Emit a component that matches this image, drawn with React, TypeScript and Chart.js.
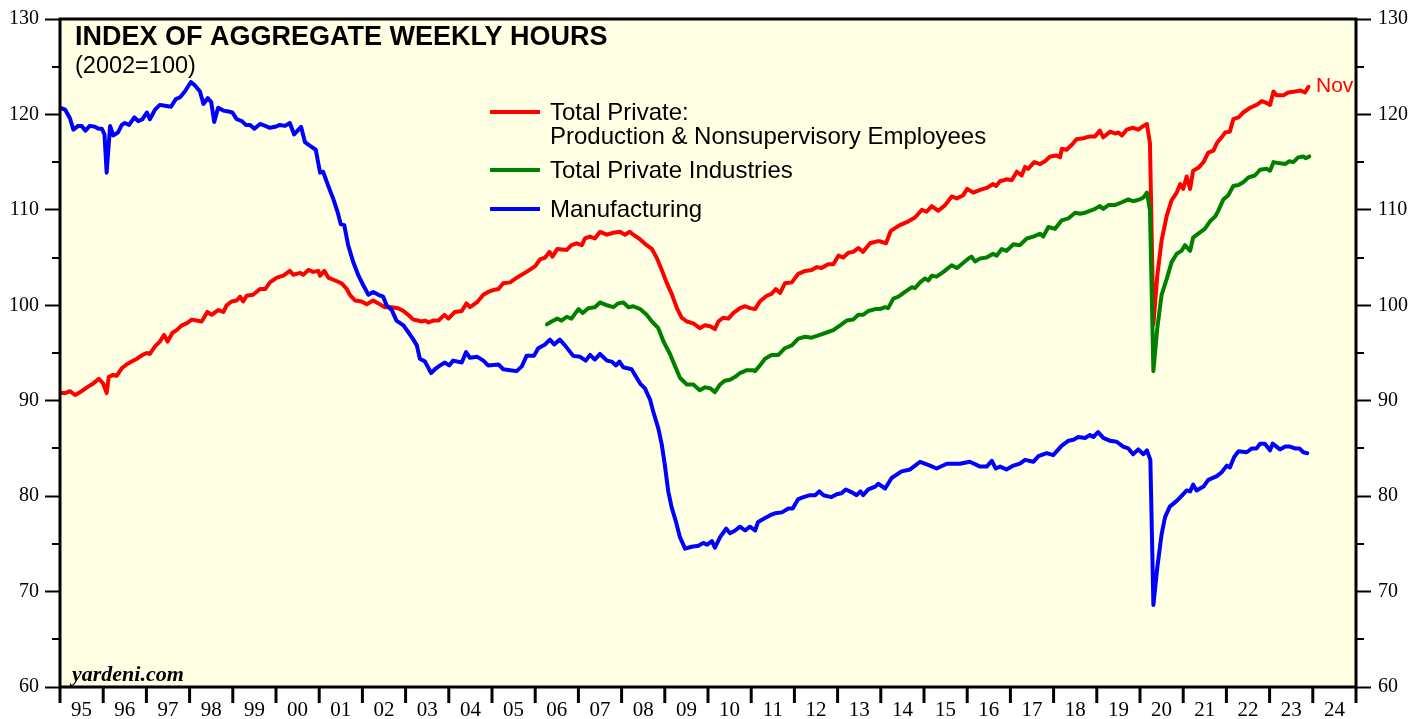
import React, { useEffect, useRef } from 'react';
import { Chart, registerables } from 'chart.js';

Chart.register(...registerables);

// ---------- DATA ----------
const yearLabels = ['95', '96', '97', '98', '99', '00', '01', '02', '03', '04', '05', '06', '07', '08', '09', '10', '11', '12', '13', '14', '15', '16', '17', '18', '19', '20', '21', '22', '23', '24'];
const majorYTicks = [60, 70, 80, 90, 100, 110, 120, 130];

// Total Private: Production & Nonsupervisory Employees
const prodDates = [
  1995.00, 1995.12, 1995.23, 1995.35, 1995.50, 1995.66, 1995.77, 1995.90, 1996.00, 1996.08, 1996.13, 1996.23, 1996.31, 1996.43, 1996.54, 1996.66, 1996.78, 1996.91,
  1997.01, 1997.08, 1997.20, 1997.31, 1997.41, 1997.49, 1997.60, 1997.70, 1997.82, 1997.93, 1998.05, 1998.16, 1998.28, 1998.41, 1998.51, 1998.66, 1998.78, 1998.86, 1998.97,
  1999.09, 1999.17, 1999.24, 1999.32, 1999.47, 1999.63, 1999.75, 1999.86, 2000.02, 2000.17, 2000.32, 2000.40, 2000.56, 2000.63, 2000.75, 2000.86, 2000.98,
  2001.02, 2001.12, 2001.21, 2001.37, 2001.52, 2001.64, 2001.71, 2001.83, 2001.98, 2002.10, 2002.25, 2002.37, 2002.52, 2002.68, 2002.83, 2002.95,
  2003.06, 2003.18, 2003.29, 2003.37, 2003.45, 2003.53, 2003.64, 2003.76, 2003.90, 2003.99, 2004.14, 2004.30, 2004.41, 2004.49, 2004.65, 2004.80, 2004.91,
  2005.03, 2005.15, 2005.26, 2005.42, 2005.61, 2005.80, 2006.00, 2006.11, 2006.23, 2006.33, 2006.40, 2006.51, 2006.73, 2006.84, 2006.96,
  2007.08, 2007.15, 2007.27, 2007.38, 2007.50, 2007.66, 2007.81, 2007.96, 2008.08, 2008.19, 2008.27, 2008.43, 2008.58, 2008.70, 2008.81, 2008.93,
  2009.04, 2009.16, 2009.28, 2009.39, 2009.51, 2009.66, 2009.81, 2009.93, 2010.05, 2010.16, 2010.24, 2010.35, 2010.47, 2010.59, 2010.74, 2010.86, 2010.97,
  2011.09, 2011.20, 2011.36, 2011.47, 2011.57, 2011.67, 2011.78, 2011.94, 2012.09, 2012.25, 2012.40, 2012.52, 2012.63, 2012.78, 2012.90,
  2013.02, 2013.13, 2013.25, 2013.36, 2013.48, 2013.59, 2013.75, 2013.91, 2013.98, 2014.12, 2014.23, 2014.44, 2014.64, 2014.79, 2014.95,
  2015.06, 2015.18, 2015.33, 2015.49, 2015.64, 2015.76, 2015.90, 2016.00, 2016.14, 2016.30, 2016.45, 2016.60, 2016.67, 2016.76, 2016.91,
  2017.03, 2017.15, 2017.26, 2017.34, 2017.41, 2017.55, 2017.69, 2017.80, 2017.92, 2018.07, 2018.15, 2018.19, 2018.30, 2018.44, 2018.53, 2018.69, 2018.84, 2018.96,
  2019.07, 2019.15, 2019.31, 2019.42, 2019.50, 2019.58, 2019.69, 2019.84, 2019.96, 2020.08, 2020.16, 2020.23, 2020.31, 2020.40, 2020.50, 2020.62, 2020.73, 2020.85, 2020.93,
  2021.00, 2021.08, 2021.16, 2021.23, 2021.35, 2021.47, 2021.58, 2021.70, 2021.78, 2021.89, 2021.97, 2022.08, 2022.16, 2022.28, 2022.39, 2022.55, 2022.70, 2022.82, 2022.93,
  2023.01, 2023.09, 2023.16, 2023.32, 2023.43, 2023.59, 2023.72, 2023.82, 2023.90,
];
const prodValues = [
  90.8, 90.8, 91.0, 90.6, 91.0, 91.5, 91.8, 92.3, 91.8, 90.8, 92.5, 92.7, 92.6, 93.4, 93.8, 94.1, 94.4, 94.8,
  95.0, 94.9, 95.7, 96.2, 96.9, 96.2, 97.1, 97.4, 97.9, 98.1, 98.5, 98.4, 98.3, 99.3, 99.0, 99.5, 99.3, 100.0, 100.4,
  100.5, 100.9, 100.4, 101.0, 101.1, 101.7, 101.7, 102.4, 102.9, 103.1, 103.6, 103.2, 103.4, 103.2, 103.7, 103.5, 103.6,
  103.1, 103.6, 102.9, 102.6, 102.3, 101.7, 101.1, 100.5, 100.4, 100.1, 100.5, 100.2, 99.8, 99.8, 99.7, 99.4,
  99.0, 98.5, 98.4, 98.3, 98.4, 98.2, 98.4, 98.4, 99.0, 98.6, 99.3, 99.4, 100.2, 99.8, 100.3, 101.1, 101.4,
  101.6, 101.7, 102.3, 102.4, 103.0, 103.5, 104.1, 104.8, 105.0, 105.6, 105.1, 105.9, 105.8, 106.3, 106.5,
  106.3, 107.0, 107.2, 107.0, 107.7, 107.4, 107.6, 107.7, 107.4, 107.7, 107.4, 106.9, 106.3, 105.9, 105.0, 103.7,
  102.4, 101.2, 99.7, 98.7, 98.3, 98.1, 97.6, 97.9, 97.8, 97.5, 98.3, 98.7, 98.6, 99.2, 99.7, 99.9, 99.7,
  99.6, 100.4, 101.0, 101.2, 101.7, 101.3, 102.3, 102.4, 103.3, 103.6, 103.7, 104.0, 103.9, 104.3, 104.3,
  105.2, 105.0, 105.5, 105.6, 106.0, 105.6, 106.5, 106.7, 106.7, 106.5, 107.8, 108.4, 108.8, 109.2, 110.0,
  109.8, 110.4, 109.9, 110.5, 111.4, 111.2, 111.5, 112.2, 111.8, 112.1, 112.3, 112.7, 112.5, 113.0, 113.2,
  113.1, 114.0, 113.6, 114.5, 114.3, 115.0, 114.8, 115.1, 115.6, 115.7, 115.5, 116.4, 116.3, 116.9, 117.4, 117.5, 117.7, 117.7,
  118.3, 117.6, 118.2, 118.0, 118.1, 117.8, 118.4, 118.6, 118.4, 118.8, 119.0, 117.0, 98.0, 103.1, 106.8, 109.4, 111.0, 111.8, 112.7,
  112.2, 113.5, 112.2, 114.1, 114.4, 115.0, 116.0, 116.2, 117.0, 117.6, 118.1, 118.2, 119.5, 119.7, 120.2, 120.7, 121.0, 121.4, 121.2,
  121.0, 122.4, 122.0, 122.0, 122.3, 122.4, 122.5, 122.3, 122.9,
];

// Total Private Industries
const totalDates = [
  2006.27, 2006.38, 2006.51, 2006.61, 2006.73, 2006.84, 2007.00, 2007.10, 2007.23, 2007.38, 2007.50, 2007.66, 2007.81, 2007.92,
  2008.04, 2008.16, 2008.27, 2008.43, 2008.58, 2008.72, 2008.85, 2008.97, 2009.12, 2009.24, 2009.35, 2009.51, 2009.66, 2009.81, 2009.93,
  2010.05, 2010.16, 2010.28, 2010.39, 2010.51, 2010.63, 2010.74, 2010.90, 2011.05, 2011.09, 2011.20, 2011.32, 2011.47, 2011.63, 2011.78, 2011.94,
  2012.09, 2012.25, 2012.40, 2012.59, 2012.78, 2012.90, 2013.06, 2013.21, 2013.36, 2013.48, 2013.59, 2013.71, 2013.87, 2013.98,
  2014.10, 2014.17, 2014.29, 2014.41, 2014.56, 2014.72, 2014.79, 2014.91, 2015.02, 2015.10, 2015.18, 2015.29, 2015.45, 2015.64, 2015.76, 2015.87,
  2016.03, 2016.10, 2016.18, 2016.30, 2016.45, 2016.60, 2016.68, 2016.80, 2016.91, 2017.07, 2017.22, 2017.38, 2017.53, 2017.69, 2017.76, 2017.88,
  2018.03, 2018.19, 2018.34, 2018.50, 2018.61, 2018.73, 2018.84, 2018.96, 2019.07, 2019.15, 2019.27, 2019.42, 2019.58, 2019.73, 2019.84,
  2020.00, 2020.08, 2020.16, 2020.23, 2020.31, 2020.40, 2020.50, 2020.62, 2020.73, 2020.85, 2020.96,
  2021.04, 2021.16, 2021.23, 2021.35, 2021.50, 2021.62, 2021.74, 2021.81, 2021.93, 2022.04, 2022.16, 2022.28, 2022.39, 2022.51, 2022.66, 2022.78, 2022.93,
  2023.01, 2023.09, 2023.20, 2023.36, 2023.46, 2023.55, 2023.66, 2023.78, 2023.84, 2023.92,
];
const totalValues = [
  98.0, 98.3, 98.6, 98.4, 98.8, 98.6, 99.6, 99.2, 99.7, 99.8, 100.3, 100.0, 99.8, 100.2,
  100.3, 99.8, 99.9, 99.6, 99.0, 98.2, 97.6, 96.2, 94.9, 93.6, 92.4, 91.7, 91.7, 91.1, 91.4,
  91.3, 90.9, 91.7, 92.1, 92.2, 92.5, 92.9, 93.2, 93.2, 93.1, 93.7, 94.4, 94.8, 94.8, 95.5, 95.8,
  96.5, 96.7, 96.6, 96.9, 97.2, 97.4, 97.9, 98.4, 98.5, 99.0, 99.0, 99.4, 99.6, 99.6,
  99.8, 99.7, 100.7, 100.9, 101.4, 101.9, 101.8, 102.4, 102.8, 102.6, 103.1, 103.0, 103.5, 104.2, 103.9, 104.3,
  104.9, 105.1, 104.6, 104.9, 105.0, 105.4, 105.2, 105.9, 105.7, 106.4, 106.3, 107.0, 107.2, 107.5, 107.2, 108.2,
  108.0, 108.9, 109.1, 109.7, 109.6, 109.7, 109.9, 110.1, 110.4, 110.1, 110.5, 110.5, 110.8, 111.1, 110.9,
  111.1, 111.3, 111.8, 110.0, 93.1, 97.6, 101.1, 102.8, 104.5, 105.4, 105.7,
  106.3, 105.7, 107.1, 107.5, 108.0, 108.8, 109.3, 109.9, 111.1, 111.5, 112.5, 112.6, 112.9, 113.4, 113.6, 114.2, 114.3,
  114.1, 115.0, 114.9, 114.8, 115.1, 115.0, 115.5, 115.6, 115.4, 115.6,
];

// Manufacturing
const mfgDates = [
  1995.00, 1995.12, 1995.23, 1995.31, 1995.42, 1995.50, 1995.59, 1995.69, 1995.81, 1995.89, 1995.97, 1996.03, 1996.08, 1996.16, 1996.23, 1996.34, 1996.43, 1996.50, 1996.60, 1996.72, 1996.81, 1996.91,
  1997.01, 1997.08, 1997.20, 1997.31, 1997.43, 1997.57, 1997.68, 1997.78, 1997.89, 1998.03, 1998.13, 1998.24, 1998.32, 1998.42, 1998.50, 1998.57, 1998.66, 1998.78, 1998.90, 1998.99,
  1999.09, 1999.21, 1999.30, 1999.40, 1999.50, 1999.63, 1999.75, 1999.86, 1999.98, 2000.09, 2000.21, 2000.32, 2000.42, 2000.52, 2000.58, 2000.67, 2000.79, 2000.92,
  2001.02, 2001.09, 2001.21, 2001.33, 2001.43, 2001.50, 2001.58, 2001.67, 2001.79, 2001.91, 2002.02, 2002.14, 2002.25, 2002.37, 2002.48, 2002.56, 2002.68, 2002.79, 2002.95,
  2003.06, 2003.18, 2003.26, 2003.33, 2003.45, 2003.59, 2003.68, 2003.80, 2003.91, 2004.01, 2004.10, 2004.30, 2004.40, 2004.49, 2004.66, 2004.80, 2004.91,
  2005.15, 2005.26, 2005.42, 2005.57, 2005.69, 2005.80, 2005.97, 2006.07, 2006.23, 2006.34, 2006.44, 2006.57, 2006.69, 2006.88,
  2007.04, 2007.17, 2007.27, 2007.38, 2007.50, 2007.66, 2007.77, 2007.87, 2007.95, 2008.04, 2008.23, 2008.43, 2008.54, 2008.66, 2008.73, 2008.85, 2008.93,
  2009.00, 2009.08, 2009.16, 2009.26, 2009.35, 2009.47, 2009.62, 2009.78, 2009.89, 2009.98, 2010.09, 2010.16, 2010.28, 2010.42, 2010.51, 2010.63, 2010.74, 2010.86, 2010.97,
  2011.09, 2011.16, 2011.32, 2011.44, 2011.55, 2011.71, 2011.86, 2011.96, 2012.09, 2012.21, 2012.36, 2012.48, 2012.58, 2012.67, 2012.86, 2012.98,
  2013.09, 2013.19, 2013.33, 2013.44, 2013.53, 2013.59, 2013.71, 2013.87, 2013.94, 2014.10, 2014.25, 2014.48, 2014.68, 2014.91,
  2015.14, 2015.29, 2015.53, 2015.83, 2016.06, 2016.30, 2016.45, 2016.57, 2016.66, 2016.76, 2016.91,
  2017.07, 2017.22, 2017.34, 2017.53, 2017.65, 2017.84, 2017.99, 2018.19, 2018.34, 2018.46, 2018.57, 2018.73, 2018.84, 2018.92,
  2019.03, 2019.15, 2019.31, 2019.46, 2019.61, 2019.73, 2019.84, 2019.96, 2020.08, 2020.16, 2020.24, 2020.31, 2020.40, 2020.50, 2020.58, 2020.69, 2020.85,
  2021.00, 2021.08, 2021.16, 2021.23, 2021.31, 2021.47, 2021.58, 2021.78, 2021.89, 2022.01, 2022.08, 2022.18, 2022.28, 2022.47, 2022.59, 2022.70, 2022.78, 2022.89,
  2023.01, 2023.07, 2023.24, 2023.36, 2023.47, 2023.59, 2023.69, 2023.78, 2023.87,
];
const mfgValues = [
  120.7, 120.5, 119.6, 118.4, 118.8, 118.8, 118.3, 118.8, 118.7, 118.5, 118.5, 117.9, 113.9, 118.8, 117.8, 118.1, 118.9, 119.1, 118.9, 119.7, 119.3, 119.5,
  120.2, 119.5, 120.5, 121.0, 120.9, 120.8, 121.6, 121.8, 122.4, 123.4, 123.0, 122.4, 121.1, 121.7, 121.3, 119.2, 120.7, 120.4, 120.3, 120.2,
  119.5, 119.3, 118.9, 118.9, 118.5, 119.0, 118.8, 118.6, 118.7, 118.9, 118.8, 119.1, 117.9, 118.4, 118.7, 117.1, 116.7, 116.3,
  113.9, 114.0, 112.5, 111.1, 109.7, 108.5, 108.4, 106.3, 104.5, 103.1, 102.1, 101.1, 101.4, 101.1, 100.9, 100.0, 99.5, 98.4, 97.9,
  97.2, 96.4, 95.8, 94.4, 94.1, 92.9, 93.3, 93.7, 94.0, 93.7, 94.2, 94.0, 95.1, 94.5, 94.6, 94.2, 93.7,
  93.8, 93.3, 93.2, 93.1, 93.6, 94.7, 94.7, 95.5, 95.9, 96.4, 95.9, 96.4, 95.8, 94.7,
  94.6, 94.2, 94.8, 94.3, 94.9, 94.2, 94.1, 93.7, 94.1, 93.5, 93.3, 91.8, 91.3, 90.1, 88.9, 87.1, 85.4,
  83.3, 80.5, 78.8, 77.3, 75.7, 74.5, 74.7, 74.8, 75.1, 74.9, 75.3, 74.6, 75.7, 76.6, 76.1, 76.4, 76.8, 76.4, 76.8,
  76.4, 77.3, 77.7, 78.0, 78.2, 78.3, 78.7, 78.7, 79.7, 79.9, 80.1, 80.1, 80.5, 80.1, 79.9, 80.2,
  80.3, 80.7, 80.4, 80.1, 80.5, 80.1, 80.7, 81.0, 81.3, 80.8, 81.9, 82.6, 82.8, 83.6,
  83.2, 82.9, 83.4, 83.4, 83.6, 83.1, 83.1, 83.7, 82.9, 83.1, 82.8,
  83.2, 83.4, 83.8, 83.6, 84.2, 84.5, 84.3, 85.3, 85.8, 85.9, 86.2, 86.1, 86.4, 86.2,
  86.7, 86.1, 85.8, 85.7, 85.2, 85.0, 84.4, 84.9, 84.4, 84.8, 83.8, 68.6, 72.5, 76.0, 77.8, 78.9, 79.5,
  80.2, 80.6, 80.5, 81.2, 80.6, 81.0, 81.7, 82.1, 82.5, 83.2, 83.0, 84.1, 84.7, 84.6, 85.0, 85.0, 85.5, 85.5,
  84.8, 85.5, 84.9, 85.2, 85.2, 85.0, 85.0, 84.6, 84.5,
];

const seriesNames = ['Total Private:', 'Production & Nonsupervisory Employees', 'Total Private Industries', 'Manufacturing'];
const seriesColors = { prod: '#ff0000', total: '#008000', mfg: '#0000ff' };

const toPoints = (xs: number[], ys: number[]) => xs.map((x, i) => ({ x, y: ys[i] }));

const SANS = '"Liberation Sans", Arial, sans-serif';
const SERIF = '"Liberation Serif", "Times New Roman", serif';

const decorPlugin = {
  id: 'decor',
  beforeDraw(chart: any) {
    const { ctx, chartArea: a } = chart;
    ctx.save();
    ctx.fillStyle = '#ffffff';
    ctx.fillRect(0, 0, chart.width, chart.height);
    ctx.fillStyle = '#ffffe4';
    ctx.fillRect(a.left, a.top, a.right - a.left, a.bottom - a.top);
    ctx.restore();
  },
  afterDraw(chart: any) {
    const { ctx, chartArea: a, scales } = chart;
    const ys = scales.y;
    const xs = scales.x;
    ctx.save();
    // minor y ticks
    ctx.strokeStyle = '#000';
    ctx.lineWidth = 2;
    for (let v = 65; v < 130; v += 10) {
      const py = Math.round(ys.getPixelForValue(v));
      ctx.beginPath();
      ctx.moveTo(a.left - 8, py);
      ctx.lineTo(a.left, py);
      ctx.moveTo(a.right, py);
      ctx.lineTo(a.right + 8, py);
      ctx.stroke();
    }
    // year boundary ticks
    ctx.lineWidth = 3;
    for (let i = 0; i <= yearLabels.length; i++) {
      const px = xs.getPixelForValue(1995 + i);
      ctx.beginPath();
      ctx.moveTo(px, a.bottom);
      ctx.lineTo(px, a.bottom + 16);
      ctx.stroke();
    }
    // frame
    ctx.lineWidth = 3;
    ctx.strokeRect(a.left, a.top, a.right - a.left, a.bottom - a.top);

    // title
    ctx.fillStyle = '#000';
    ctx.textBaseline = 'alphabetic';
    ctx.textAlign = 'left';
    ctx.font = `bold 27px ${SANS}`;
    ctx.fillText('INDEX OF AGGREGATE WEEKLY HOURS', 75, 45);
    ctx.font = `23.5px ${SANS}`;
    ctx.fillText('(2002=100)', 75, 73);

    // legend
    const lx0 = 490, lx1 = 540, tx = 550;
    const items = [
      { color: seriesColors.prod, ly: 112, lines: [[seriesNames[0], 120], [seriesNames[1], 144]] },
      { color: seriesColors.total, ly: 170, lines: [[seriesNames[2], 178]] },
      { color: seriesColors.mfg, ly: 209, lines: [[seriesNames[3], 217]] },
    ];
    ctx.font = `24px ${SANS}`;
    items.forEach((it: any) => {
      ctx.strokeStyle = it.color;
      ctx.lineWidth = 4;
      ctx.beginPath();
      ctx.moveTo(lx0, it.ly);
      ctx.lineTo(lx1, it.ly);
      ctx.stroke();
      ctx.fillStyle = '#000';
      it.lines.forEach((ln: any) => ctx.fillText(ln[0], tx, ln[1]));
    });

    // last-month label
    ctx.fillStyle = seriesColors.prod;
    ctx.font = `21px ${SANS}`;
    ctx.fillText('Nov', 1316, 92);

    // source
    ctx.fillStyle = '#000';
    ctx.font = `bold italic 22px ${SERIF}`;
    ctx.fillText('yardeni.com', 72, 681);
    ctx.restore();
  },
};

export default function App() {
  const ref = useRef<HTMLCanvasElement>(null);
  useEffect(() => {
    document.body.style.margin = '0';
    document.body.style.overflow = 'hidden';
    const yAxis = (position: 'left' | 'right', width: number, padding: number) => ({
      type: 'linear' as const,
      position,
      min: 60,
      max: 130,
      afterBuildTicks: (s: any) => {
        s.ticks = majorYTicks.map((v) => ({ value: v }));
      },
      afterFit: (s: any) => {
        s.width = width;
      },
      ticks: {
        color: '#000',
        padding,
        font: { family: SERIF, size: 20 },
        callback: (v: any) => String(v),
      },
      grid: { display: true, drawOnChartArea: false, drawTicks: true, tickLength: 15, tickWidth: 2, tickColor: '#000' },
      border: { display: false },
    });
    const chart = new Chart(ref.current as HTMLCanvasElement, {
      type: 'line',
      data: {
        datasets: [
          { label: 'Manufacturing', data: toPoints(mfgDates, mfgValues), borderColor: seriesColors.mfg, yAxisID: 'y' },
          { label: 'Total Private Industries', data: toPoints(totalDates, totalValues), borderColor: seriesColors.total, yAxisID: 'y' },
          { label: 'Total Private: Production & Nonsupervisory Employees', data: toPoints(prodDates, prodValues), borderColor: seriesColors.prod, yAxisID: 'y' },
        ].map((d) => ({ ...d, borderWidth: 4, pointRadius: 0, tension: 0, borderJoinStyle: 'round' as const, borderCapStyle: 'round' as const, fill: false })),
      },
      options: {
        responsive: false,
        animation: false,
        devicePixelRatio: 1,
        events: [],
        layout: { padding: { top: 16, left: 0, right: 0, bottom: 0 } },
        plugins: { legend: { display: false }, tooltip: { enabled: false }, title: { display: false } },
        scales: {
          x: {
            type: 'linear',
            position: 'bottom',
            min: 1995,
            max: 2025,
            afterBuildTicks: (s: any) => {
              s.ticks = yearLabels.map((_, i) => ({ value: 1995.5 + i }));
            },
            afterFit: (s: any) => {
              s.height = 32;
            },
            ticks: {
              color: '#000',
              padding: 11,
              autoSkip: false,
              maxRotation: 0,
              minRotation: 0,
              font: { family: SERIF, size: 21 },
              callback: (v: any) => yearLabels[Math.floor(Number(v) - 1995)],
            },
            grid: { display: false, drawTicks: false },
            border: { display: false },
          },
          y: yAxis('left', 60, 6),
          y2: yAxis('right', 72, 7),
        },
      },
      plugins: [decorPlugin],
    });
    return () => chart.destroy();
  }, []);
  return (
    <div style={{ width: 1428, height: 719, position: 'relative', overflow: 'hidden' }}>
      <canvas ref={ref} width={1428} height={719} style={{ display: 'block', width: 1428, height: 719 }} />
    </div>
  );
}
